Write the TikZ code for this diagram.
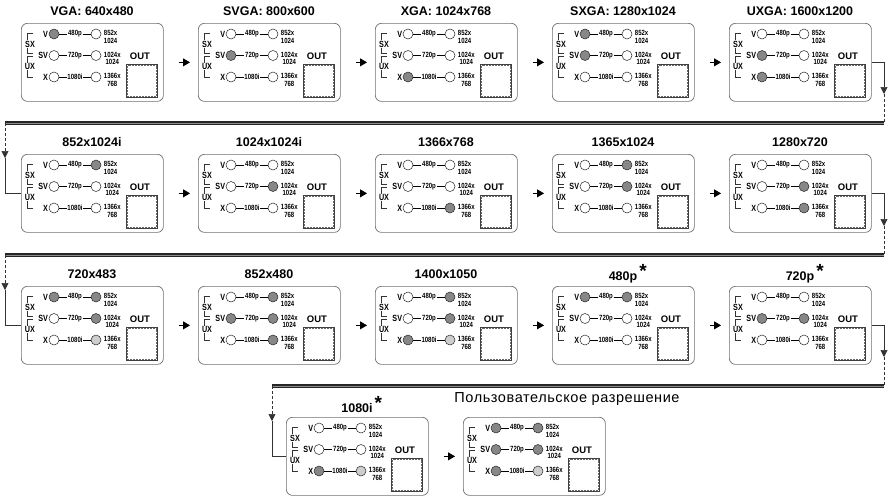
\documentclass[tikz,border=0pt]{standalone}
\usepackage{fontspec}
\setmainfont{Liberation Sans}
\newfontfamily\narrowfont[FakeStretch=0.8]{Liberation Sans}
\newfontfamily\spacedfont[LetterSpace=4]{Liberation Sans}
\usepackage{tikz}
\usetikzlibrary{calc,arrows.meta}
\definecolor{frame}{RGB}{110,110,110}
\definecolor{led0}{RGB}{255,255,255}
\definecolor{led1}{RGB}{135,135,135}
\definecolor{led2}{RGB}{205,205,205}

\tikzset{
  panelbox/.style={draw=frame, line width=0.7pt, rounded corners=6pt, minimum width=142pt, minimum height=78pt, inner sep=0pt, anchor=north west},
  paneltitle/.style={font=\bfseries\fontsize{12.5}{14}\selectfont, inner sep=0pt},
  led/.style={circle, draw=black!85, line width=0.5pt, fill=led#1, minimum size=10pt, inner sep=0pt},
  sigtext/.style={font=\narrowfont\bfseries\fontsize{9}{9}\selectfont, inner sep=0.5pt},
  smalltext/.style={font=\narrowfont\bfseries\fontsize{7.5}{7.5}\selectfont, inner sep=0.5pt},
  wire/.style={draw=black, line width=0.5pt},
  brk/.style={draw=black!80, line width=0.5pt},
  outbox/.style={draw=black!75, line width=0.7pt, minimum width=31pt, minimum height=33pt, inner sep=0pt, anchor=north west},
  flow/.style={draw=black, line width=0.8pt, -{Triangle[length=7pt,width=8pt]}, shorten <=15pt, shorten >=8pt},
  link/.style={draw=black!80, line width=0.6pt},
  drop/.style={link, -{Triangle[length=7pt,width=7pt]}},
  bus/.style={draw=black!85, line width=1.4pt, double=black!45, double distance=1pt},
}

\newcommand{\modestar}{\rlap{\,\raisebox{3pt}{\fontsize{19}{19}\selectfont *}}}

% one mode panel: name, top-left corner, title, led states (left/right per row)
\newcommand{\panel}[4]{%
  \begin{scope}[shift={(#2)}]
    \node[panelbox] (#1) at (0,0) {};
    \node[paneltitle] (#1-t) at (71,-12) {#3};
    \foreach \ls/\rs [count=\k from 0] in {#4} {
      \node[led=\ls] (#1-l\k) at (33,{11+21.5*\k}) {};
      \node[led=\rs] (#1-r\k) at (75,{11+21.5*\k}) {};
    }
    \foreach \sname/\fname/\rname [count=\k from 0] in {V/480p/{852x\\1024},SV/720p/{1024x\\1024},X/1080i/{1366x\\768}} {
      \node[sigtext, anchor=east] at (#1-l\k.west) {\sname};
      \node[smalltext] (#1-f\k) at (54,{11+21.5*\k}) {\fname};
      \draw[wire] (#1-l\k) -- (#1-f\k) -- (#1-r\k);
      \node[smalltext, align=center, anchor=north west] at ($(#1-r\k.east)+(2,-4)$) {\rname};
    }
    \draw[brk] (12,10) -| (6,30.5) -- (12,30.5);
    \draw[brk] (12,33.5) -| (6,54) -- (12,54);
    \node[sigtext, fill=white] at (9,21) {SX};
    \node[sigtext, fill=white] at (9,43.5) {UX};
    \node[font=\bfseries\fontsize{9.5}{10}\selectfont, inner sep=0pt] at (119,33) {OUT};
    \node[outbox] (#1-o) at (105,41) {};
    \draw[densely dotted, black!60, line width=0.5pt] ($(#1-o.north west)+(1.5,1.5)$) rectangle ($(#1-o.south east)+(-1.5,-1.5)$);
  \end{scope}}

\begin{document}
\begin{tikzpicture}[x=1pt,y=-1pt]
\useasboundingbox (0,0) rectangle (890,499);

% row 1
\panel{p1}{21,23}{VGA: 640x480}{1/0,0/0,0/0}
\panel{p2}{198,23}{SVGA: 800x600}{0/0,1/0,0/0}
\panel{p3}{375,23}{XGA: 1024x768}{0/0,0/0,1/0}
\panel{p4}{552,23}{SXGA: 1280x1024}{1/0,1/0,0/0}
\panel{p5}{729,23}{UXGA: 1600x1200}{0/0,1/0,1/0}
% row 2
\panel{p6}{21,154}{852x1024i}{0/1,0/0,0/0}
\panel{p7}{198,154}{1024x1024i}{0/0,0/1,0/0}
\panel{p8}{375,154}{1366x768}{0/0,0/0,0/1}
\panel{p9}{552,154}{1365x1024}{0/1,0/1,0/0}
\panel{p10}{729,154}{1280x720}{0/0,0/1,0/1}
% row 3
\panel{p11}{21,286}{720x483}{1/1,0/1,0/2}
\panel{p12}{198,286}{852x480}{0/1,1/1,0/1}
\panel{p13}{375,286}{1400x1050}{0/1,0/1,1/2}
\panel{p14}{552,286}{480p\modestar}{1/1,0/0,0/0}
\panel{p15}{729,286}{720p\modestar}{0/0,1/1,0/0}
% row 4
\panel{p16}{286,417}{1080i\modestar}{0/0,0/0,1/2}
\panel{p17}{463,417}{}{1/1,1/1,1/2}
\node[font=\spacedfont\fontsize{14.5}{16}\selectfont, inner sep=0pt] (custom) at (567,399) {Пользовательское разрешение};

\foreach \pa/\pb in {p1/p2,p2/p3,p3/p4,p4/p5,p6/p7,p7/p8,p8/p9,p9/p10,p11/p12,p12/p13,p13/p14,p14/p15,p16/p17}
  \draw[flow] (\pa) -- (\pb);

% turn from one row to the next
\coordinate (d1) at (884,94);  \coordinate (e1) at (884,123);
\coordinate (w1) at (5,123);   \coordinate (u1) at (5,158);
\draw[drop] (p5.east) -| (d1);
\draw[link, densely dashed] (d1) -- (e1);
\draw[bus] (e1) -- (w1);
\draw[drop, densely dashed] (w1) -- (u1);
\draw[link] (u1) |- (p6.west);

\coordinate (d2) at (884,226); \coordinate (e2) at (884,255);
\coordinate (w2) at (5,255);   \coordinate (u2) at (5,290);
\draw[drop] (p10.east) -| (d2);
\draw[link, densely dashed] (d2) -- (e2);
\draw[bus] (e2) -- (w2);
\draw[drop, densely dashed] (w2) -- (u2);
\draw[link] (u2) |- (p11.west);

\coordinate (d3) at (884,357); \coordinate (e3) at (884,386);
\coordinate (w3) at (272,386); \coordinate (u3) at (272,421);
\draw[drop] (p15.east) -| (d3);
\draw[link, densely dashed] (d3) -- (e3);
\draw[bus] (e3) -- (w3);
\draw[drop, densely dashed] (w3) -- (u3);
\draw[link] (u3) |- (p16.west);
\end{tikzpicture}
\end{document}
